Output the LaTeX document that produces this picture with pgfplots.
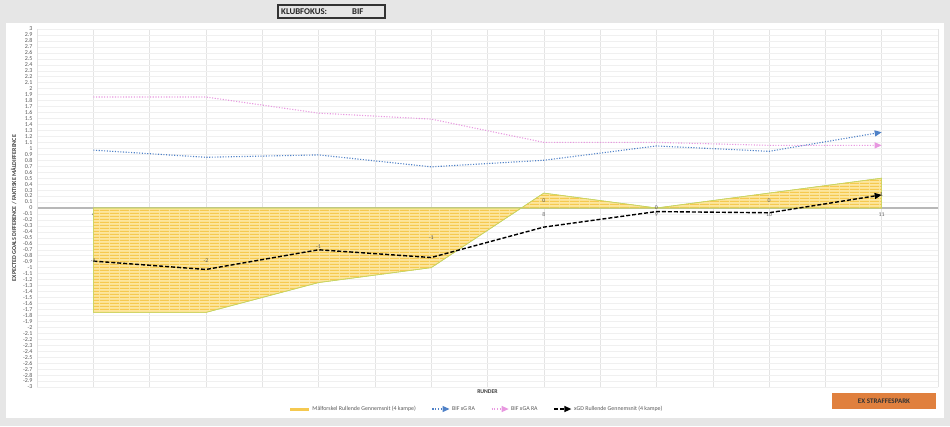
\documentclass[border=0pt]{standalone}
\usepackage{pgfplots}
\pgfplotsset{compat=1.18}
\usepackage{fontspec}
\setmainfont{Carlito}
\usetikzlibrary{arrows.meta,patterns}
\definecolor{bggray}{RGB}{230,230,230}
\definecolor{areafill}{RGB}{253,230,158}
\definecolor{areastripe}{RGB}{245,201,80}
\definecolor{areaedge}{RGB}{200,212,96}
\definecolor{xgblue}{RGB}{79,129,199}
\definecolor{xgapink}{RGB}{232,152,224}
\definecolor{btnorange}{RGB}{224,128,62}
\definecolor{ticktext}{RGB}{89,89,89}
\definecolor{gridh}{RGB}{240,240,240}
\definecolor{gridv}{RGB}{228,228,228}
\pgfdeclarepatternformonly{finehlines}{\pgfpointorigin}{\pgfqpoint{10pt}{2.7pt}}{\pgfqpoint{10pt}{2.7pt}}{%
  \pgfpathrectangle{\pgfpointorigin}{\pgfqpoint{10pt}{1.2pt}}\pgfusepath{fill}}
\pgfplotsset{
  layers/mylayers/.define layer set={axis background,axis grid,axis ticks,axis lines,pre main,main,axis tick labels,axis descriptions,axis foreground}{},
}
\begin{document}
\begin{tikzpicture}
\begin{axis}[
  set layers=mylayers,
  scale only axis,
  width=901pt, height=358pt,
  xmin=3.5, xmax=11.5, ymin=-3, ymax=3,
  axis x line*=middle, axis y line*=left,
  x axis line style={-, draw=black!28, line width=1.2pt},
  y axis line style={-, draw=gridv},
  every inner x axis line/.append style={-},
  xtick={4,5,6,7,8,9,10,11},
  minor xtick={3.5,4.5,5.5,6.5,7.5,8.5,9.5,10.5,11.5},
  ytick distance=0.1,
  major tick length=0pt, minor tick length=0pt,
  grid=both,
  x grid style={gridv, line width=0.5pt},
  y grid style={gridh, line width=0.5pt},
  minor x grid style={gridv, line width=0.5pt},
  /pgf/number format/assume math mode=true,
  yticklabel style={/pgf/number format/fixed, /pgf/number format/precision=1, font=\fontsize{6}{6}\selectfont, text=ticktext, xshift=-1pt},
  xticklabel style={font=\fontsize{5.8}{6}\selectfont, text=black!60, yshift=-1pt},
  xlabel={RUNDER},
  xlabel style={at={(axis description cs:0.5,0)}, anchor=north, yshift=0.5pt, font=\fontsize{5.8}{6}\selectfont\bfseries, text=black!75},
  ylabel={EXPECTED GOALS DIFFERENCE / FAKTISKE MÅLDIFFERENCE},
  ylabel style={at={(axis description cs:-0.026,0.5)}, anchor=center, font=\fontsize{6}{6}\selectfont\bfseries, text=black!75},
  legend style={at={(axis description cs:0.488,-0.0615)}, anchor=center, draw=none, fill=none,
    font=\fontsize{5.9}{6}\selectfont, text=ticktext,
    /tikz/every even column/.append style={column sep=14pt}},
  legend columns=4,
  clip=false,
]
\begin{pgfonlayer}{axis background}
\fill[bggray] ([shift={(-37pt,-39pt)}]rel axis cs:0,0) rectangle ([shift={(913pt,387pt)}]rel axis cs:0,0);
\fill[white] ([shift={(-31pt,-31pt)}]rel axis cs:0,0) rectangle ([shift={(907pt,364pt)}]rel axis cs:0,0);
\draw[line width=1.2pt, black!80, fill=bggray] ([shift={(241pt,369pt)}]rel axis cs:0,0) rectangle ([shift={(348pt,382pt)}]rel axis cs:0,0);
\node[font=\fontsize{8.8}{9}\selectfont\bfseries, anchor=west, inner sep=0pt, text=black!85] at ([shift={(244pt,375.5pt)}]rel axis cs:0,0) {KLUBFOKUS:};
\node[font=\fontsize{8.8}{9}\selectfont\bfseries, anchor=west, inner sep=0pt, text=black!85] at ([shift={(315pt,375.5pt)}]rel axis cs:0,0) {BIF};
\fill[btnorange] ([shift={(795pt,-22pt)}]rel axis cs:0,0) rectangle ([shift={(899pt,-6pt)}]rel axis cs:0,0);
\node[font=\fontsize{7}{7}\selectfont\bfseries, text=black!80] at ([shift={(847pt,-14pt)}]rel axis cs:0,0) {EX STRAFFESPARK};
\end{pgfonlayer}
\addplot[draw=areaedge, line width=0.6pt, preaction={fill=areafill}, pattern=finehlines, pattern color=areastripe,
  legend image code/.code={\draw[line width=3pt, areastripe] (0cm,0cm) -- (0.65cm,0cm);}]
  coordinates {(4,-1.75)(5,-1.75)(6,-1.25)(7,-1)(8,0.25)(9,0)(10,0.25)(11,0.5)} \closedcycle;
\addlegendentry{Målforskel Rullende Gennemsnit (4 kampe)}
\addplot[xgblue, line width=1.1pt, dash pattern=on 1.1pt off 1.6pt, -{Triangle[length=7pt,width=6pt]}]
  coordinates {(4,0.97)(5,0.85)(6,0.89)(7,0.69)(8,0.8)(9,1.04)(10,0.95)(11,1.27)};
\addlegendentry{BIF xG RA}
\addplot[xgapink, line width=1.1pt, dash pattern=on 1.1pt off 1.6pt, -{Triangle[length=7pt,width=6pt]}]
  coordinates {(4,1.86)(5,1.86)(6,1.59)(7,1.49)(8,1.1)(9,1.1)(10,1.05)(11,1.05)};
\addlegendentry{BIF xGA RA}
\addplot[black, line width=1.4pt, dash pattern=on 4pt off 2pt, -{Triangle[length=7pt,width=6pt]}]
  coordinates {(4,-0.89)(5,-1.03)(6,-0.7)(7,-0.83)(8,-0.32)(9,-0.06)(10,-0.08)(11,0.22)};
\addlegendentry{xGD Rullende Gennemsnit (4 kampe)}
\addplot[draw=none, mark=none, forget plot, nodes near coords, point meta=explicit symbolic,
  nodes near coords style={anchor=center, font=\fontsize{5.8}{6}\selectfont, text=ticktext}]
  table[meta=lab] {
x y lab
4 -0.89 -1
5 -0.89 -2
6 -0.64 -1
7 -0.5 -1
8 0.12 0
9 0.0 0
10 0.12 0
11 0.23 1
};
\end{axis}
\end{tikzpicture}
\end{document}
